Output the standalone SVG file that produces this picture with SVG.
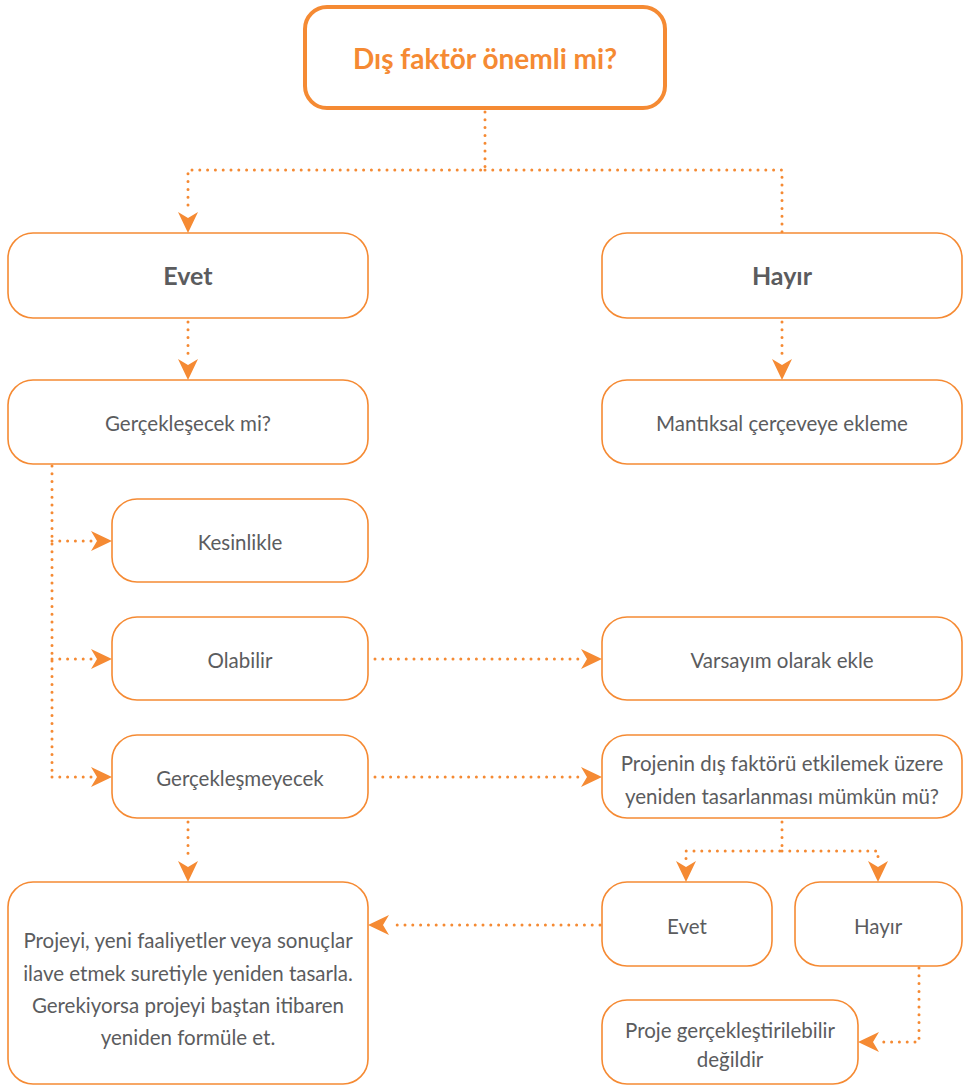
<svg xmlns="http://www.w3.org/2000/svg" width="964" height="1086" viewBox="0 0 964 1086">
  <defs>
    <style>
      .box { fill: #ffffff; stroke: #F58A33; stroke-width: 1.6; }
      .title-box { fill: #ffffff; stroke: #F58A33; stroke-width: 4; }
      .link { fill: none; stroke: #F58A33; stroke-width: 3; stroke-linecap: round; stroke-dasharray: 0 7.8; }
      .head { fill: #F58A33; }
      text { font-family: Lato, "Open Sans", "Liberation Sans", sans-serif; fill: #5B5C5E; text-anchor: middle; }
      .t { font-size: 20.5px; }
      .b { font-size: 25px; font-weight: bold; }
      .title { font-size: 28px; font-weight: bold; fill: #F58A33; }
    </style>
    <!-- notched arrowhead, tip at origin, pointing down -->
    <path id="ah" class="head" d="M0,0 L-10,-21 L0,-15 L10,-21 Z"/>
  </defs>

  <g id="connectors">
    <!-- top question split -->
    <path class="link" d="M485,112 V170 H188 V210"/>
    <path class="link" d="M485,170 H782 V232"/>
    <use href="#ah" transform="translate(188,233)"/>
    <!-- Evet -> Gerçekleşecek -->
    <path class="link" d="M188,322 V358"/>
    <use href="#ah" transform="translate(188,380)"/>
    <!-- Hayır -> Mantıksal -->
    <path class="link" d="M782,322 V358"/>
    <use href="#ah" transform="translate(782,380)"/>
    <!-- left spine -->
    <path class="link" d="M52,466 V777"/>
    <path class="link" d="M52,541 H92"/>
    <use href="#ah" transform="translate(112,541) rotate(-90)"/>
    <path class="link" d="M52,659 H92"/>
    <use href="#ah" transform="translate(112,659) rotate(-90)"/>
    <path class="link" d="M52,777 H92"/>
    <use href="#ah" transform="translate(112,777) rotate(-90)"/>
    <!-- Olabilir -> Varsayım -->
    <path class="link" d="M375,659 H582"/>
    <use href="#ah" transform="translate(602,659) rotate(-90)"/>
    <!-- Gerçekleşmeyecek -> Projenin -->
    <path class="link" d="M375,777 H582"/>
    <use href="#ah" transform="translate(602,777) rotate(-90)"/>
    <!-- Gerçekleşmeyecek -> yeniden tasarla -->
    <path class="link" d="M188,822 V860"/>
    <use href="#ah" transform="translate(188,882)"/>
    <!-- Projenin split -->
    <path class="link" d="M782,822 V851 H686 V860"/>
    <path class="link" d="M782,851 H878 V860"/>
    <use href="#ah" transform="translate(686,882)"/>
    <use href="#ah" transform="translate(878,882)"/>
    <!-- Evet (small) -> yeniden tasarla -->
    <path class="link" d="M600,925 H390"/>
    <use href="#ah" transform="translate(368,925) rotate(90)"/>
    <!-- Hayır (small) -> gerçekleştirilemez -->
    <path class="link" d="M919,968 V1042 H880"/>
    <use href="#ah" transform="translate(858,1042) rotate(90)"/>
  </g>

  <g id="n-question">
    <rect class="title-box" x="305" y="7" width="360" height="101" rx="22"/>
    <text class="title" x="485" y="69">Dış faktör önemli mi?</text>
  </g>
  <g id="n-evet">
    <rect class="box" x="8" y="233" width="360" height="85" rx="25"/>
    <text class="b" x="188" y="285">Evet</text>
  </g>
  <g id="n-hayir">
    <rect class="box" x="602" y="233" width="360" height="85" rx="25"/>
    <text class="b" x="782" y="285">Hayır</text>
  </g>
  <g id="n-gerceklesecek">
    <rect class="box" x="8" y="380" width="360" height="84" rx="25"/>
    <text class="t" x="188" y="431">Gerçekleşecek mi?</text>
  </g>
  <g id="n-mantiksal">
    <rect class="box" x="602" y="380" width="360" height="84" rx="25"/>
    <text class="t" x="782" y="431">Mantıksal çerçeveye ekleme</text>
  </g>
  <g id="n-kesinlikle">
    <rect class="box" x="112" y="499" width="256" height="83" rx="25"/>
    <text class="t" x="240" y="550">Kesinlikle</text>
  </g>
  <g id="n-olabilir">
    <rect class="box" x="112" y="617" width="256" height="83" rx="25"/>
    <text class="t" x="240" y="668">Olabilir</text>
  </g>
  <g id="n-varsayim">
    <rect class="box" x="602" y="617" width="360" height="83" rx="25"/>
    <text class="t" x="782" y="668">Varsayım olarak ekle</text>
  </g>
  <g id="n-gerceklesmeyecek">
    <rect class="box" x="112" y="735" width="256" height="83" rx="25"/>
    <text class="t" x="240" y="786">Gerçekleşmeyecek</text>
  </g>
  <g id="n-projenin">
    <rect class="box" x="602" y="735" width="360" height="83" rx="25"/>
    <text class="t" x="782" y="771">Projenin dış faktörü etkilemek üzere</text>
    <text class="t" x="782" y="804">yeniden tasarlanması mümkün mü?</text>
  </g>
  <g id="n-evet2">
    <rect class="box" x="602" y="882" width="170" height="84" rx="25"/>
    <text class="t" x="687" y="934">Evet</text>
  </g>
  <g id="n-hayir2">
    <rect class="box" x="795" y="882" width="167" height="84" rx="25"/>
    <text class="t" x="878" y="934">Hayır</text>
  </g>
  <g id="n-yeniden">
    <rect class="box" x="8" y="882" width="360" height="202" rx="25"/>
    <text class="t" x="188" y="948">Projeyi, yeni faaliyetler veya sonuçlar</text>
    <text class="t" x="188" y="981">ilave etmek suretiyle yeniden tasarla.</text>
    <text class="t" x="188" y="1013">Gerekiyorsa projeyi baştan itibaren</text>
    <text class="t" x="188" y="1045">yeniden formüle et.</text>
  </g>
  <g id="n-degil">
    <rect class="box" x="602" y="1000" width="256" height="84" rx="25"/>
    <text class="t" x="730" y="1038">Proje gerçekleştirilebilir</text>
    <text class="t" x="730" y="1067">değildir</text>
  </g>
</svg>
